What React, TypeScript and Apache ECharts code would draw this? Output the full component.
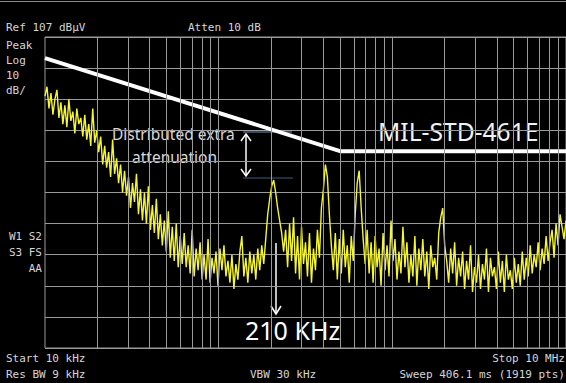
import React, { useEffect, useRef } from "react";
import * as echarts from "echarts";

// Sweep: 10 kHz .. 10 MHz, log sweep, one sample per trace point below
const startKHz = 10;
const stopKHz = 10000;
const refLevel = 107; // dBµV, top of screen
const dbPerDiv = 10;

// Trace levels (dBµV), one per log-spaced sweep point
const traceLevels = [
  88, 91, 84, 89, 82, 87, 90, 81, 86, 79,
  85, 78, 87, 80, 83, 76, 84, 79, 81, 75,
  82, 74, 79, 72, 84, 73, 77, 70, 75, 66,
  72, 65, 70, 62, 74, 63, 68, 60, 66, 57,
  64, 56, 62, 52, 60, 54, 63, 50, 58, 48,
  57, 47, 59, 45, 53, 44, 55, 42, 50, 40,
  48, 38, 51, 36, 46, 35, 47, 33, 43, 34,
  44, 33, 40, 31, 45, 30, 39, 32, 41, 29,
  37, 29, 42, 28, 36, 31, 38, 27, 39, 32,
  40, 30, 35, 28, 37, 26, 34, 29, 38, 43,
  30, 36, 28, 38, 31, 37, 29, 39, 32, 40,
  34, 42, 50, 55, 59, 61, 57, 52, 48, 44,
  38, 45, 33, 47, 35, 49, 31, 43, 29, 46,
  34, 41, 30, 44, 28, 39, 32, 45, 36, 52,
  58, 66, 62, 50, 40, 32, 44, 29, 42, 31,
  45, 33, 40, 28, 43, 35, 50, 60, 64, 52,
  42, 34, 45, 31, 41, 28, 43, 33, 39, 27,
  44, 32, 40, 30, 48, 35, 42, 29, 38, 31,
  46, 33, 41, 28, 37, 30, 43, 27, 39, 32,
  42, 30, 38, 26, 40, 33, 36, 29, 44, 49,
  52, 40, 35, 28, 39, 31, 41, 27, 36, 30,
  38, 26, 35, 29, 40, 25, 33, 28, 37, 26,
  34, 29, 39, 25, 36, 30, 33, 26, 38, 28,
  35, 25, 37, 29, 32, 26, 36, 28, 34, 27,
  38, 29, 36, 30, 40, 31, 37, 33, 41, 32,
  39, 34, 43, 35, 41, 45, 36, 47, 40, 50,
  46, 42, 48,
];

// MIL-STD-461E limit line (as drawn on the picture)
const limitFreqKHz = [10, 500, 10000];
const limitLevels = [100.2, 70.3, 70.3];

// Vertical graticule positions (kHz)
const gridFreqKHz = [
  20, 30, 40, 50, 60, 70, 80, 90, 100,
  200, 300, 400, 500, 600, 700, 800, 900, 1000,
  2000, 3000, 4000, 5000, 6000, 7000, 8000, 9000,
];

const leftLabels = ["Peak", "Log", "10", "dB/"];
const leftLabelsLow = ["W1 S2", "S3 FS", "AA"];

const GRAY = "#9a9a9a";
const TXT = "#d6d6d6";
const MONO = '"DejaVu Sans Mono", monospace';
const SANS = '"Noto Sans", "Open Sans", sans-serif';

export default function App() {
  const ref = useRef<HTMLDivElement>(null);

  useEffect(() => {
    if (!ref.current) return;
    const chart = echarts.init(ref.current, undefined, { renderer: "svg" });

    const n = traceLevels.length;
    const ratio = stopKHz / startKHz;
    const trace = traceLevels.map((v, i) => [
      startKHz * Math.pow(ratio, i / (n - 1)),
      v - refLevel,
    ]);
    const limit = limitFreqKHz.map((f, i) => [f, limitLevels[i] - refLevel]);

    const monoText = (text: string, x: number, y: number, align = "left") => ({
      type: "text",
      x,
      y,
      silent: true,
      style: {
        text,
        fill: TXT,
        font: `11px ${MONO}`,
        textAlign: align,
        textVerticalAlign: "middle",
      },
    });

    const graphic: any[] = [
      {
        type: "line",
        silent: true,
        shape: { x1: 0, y1: 1.5, x2: 566, y2: 1.5 },
        style: { stroke: "#8a8a8a", lineWidth: 1 },
      },
      monoText("Ref 107 dBµV", 6, 27),
      monoText("Atten 10 dB", 188, 27),
      ...leftLabels.map((t, i) => monoText(t, 6, 45 + i * 15)),
      ...leftLabelsLow.map((t, i) => monoText(t, 42, 236 + i * 16, "right")),
      monoText("Start 10 kHz", 6, 358),
      monoText("Res BW 9 kHz", 6, 374),
      monoText("VBW 30 kHz", 250, 374),
      monoText("Stop 10 MHz", 565, 358, "right"),
      monoText("Sweep 406.1 ms (1919 pts)", 565, 374, "right"),
      // annotation guide lines
      {
        type: "line",
        silent: true,
        shape: { x1: 243, y1: 132, x2: 292, y2: 132 },
        style: { stroke: "#6f8fb2", lineWidth: 1 },
      },
      {
        type: "line",
        silent: true,
        shape: { x1: 243, y1: 178, x2: 293, y2: 178 },
        style: { stroke: "#3e5a7a", lineWidth: 1 },
      },
      // double arrow
      {
        type: "line",
        silent: true,
        shape: { x1: 246, y1: 134, x2: 246, y2: 176 },
        style: { stroke: "#ffffff", lineWidth: 1.5 },
      },
      {
        type: "polyline",
        silent: true,
        shape: { points: [[241, 141], [246, 134], [251, 141]] },
        style: { stroke: "#ffffff", lineWidth: 1.5, fill: "none" },
      },
      {
        type: "polyline",
        silent: true,
        shape: { points: [[241, 169], [246, 176], [251, 169]] },
        style: { stroke: "#ffffff", lineWidth: 1.5, fill: "none" },
      },
      // 210 kHz arrow
      {
        type: "line",
        silent: true,
        shape: { x1: 276, y1: 243, x2: 276, y2: 314 },
        style: { stroke: "#ffffff", lineWidth: 1.5 },
      },
      {
        type: "polyline",
        silent: true,
        shape: { points: [[271, 306], [276, 314], [281, 306]] },
        style: { stroke: "#ffffff", lineWidth: 1.5, fill: "none" },
      },
      {
        type: "text",
        x: 112,
        y: 134,
        silent: true,
        style: { text: "Distributed extra", fill: "#d9d9d9", font: `15.5px ${SANS}`, textVerticalAlign: "middle" },
      },
      {
        type: "text",
        x: 132,
        y: 157,
        silent: true,
        style: { text: "attenuation", fill: "#d9d9d9", font: `15.5px ${SANS}`, textVerticalAlign: "middle" },
      },
      {
        type: "text",
        x: 378,
        y: 131,
        silent: true,
        style: { text: "MIL-STD-461E", fill: "#f2f2f2", font: `24.6px ${SANS}`, textVerticalAlign: "middle" },
      },
      {
        type: "text",
        x: 245,
        y: 330,
        silent: true,
        style: { text: "210 KHz", fill: "#ffffff", font: `25px ${SANS}`, textVerticalAlign: "middle" },
      },
    ];

    chart.setOption({
      animation: false,
      backgroundColor: "#000000",
      grid: {
        left: 45,
        top: 37,
        width: 525,
        height: 311,
        show: true,
        borderColor: GRAY,
        borderWidth: 1,
        backgroundColor: "transparent",
      },
      xAxis: {
        type: "log",
        logBase: 10,
        min: startKHz,
        max: stopKHz,
        axisLabel: { show: false },
        axisTick: { show: false },
        axisLine: { show: false },
        splitLine: { show: false },
      },
      yAxis: {
        type: "value",
        min: -dbPerDiv * 10,
        max: 0,
        interval: dbPerDiv,
        axisLabel: { show: false },
        axisTick: { show: false },
        axisLine: { show: false },
        splitLine: { show: true, lineStyle: { color: GRAY, width: 1 } },
      },
      series: [
        {
          type: "line",
          name: "graticule",
          data: [[startKHz, -100]],
          symbol: "none",
          lineStyle: { opacity: 0 },
          silent: true,
          z: 1,
          markLine: {
            silent: true,
            symbol: "none",
            label: { show: false },
            lineStyle: { color: GRAY, type: "solid", width: 1 },
            data: gridFreqKHz.map((f) => ({ xAxis: f })),
          },
        },
        {
          type: "line",
          name: "trace",
          data: trace,
          symbol: "none",
          lineStyle: { color: "#f6f630", width: 1.4 },
          silent: true,
          z: 3,
        },
        {
          type: "line",
          name: "limit",
          data: limit,
          symbol: "none",
          lineStyle: { color: "#ffffff", width: 4 },
          silent: true,
          z: 4,
        },
      ],
      graphic,
    });

    return () => chart.dispose();
  }, []);

  return (
    <div
      ref={ref}
      style={{ position: "fixed", left: 0, top: 0, width: 566, height: 383, background: "#000" }}
    />
  );
}
